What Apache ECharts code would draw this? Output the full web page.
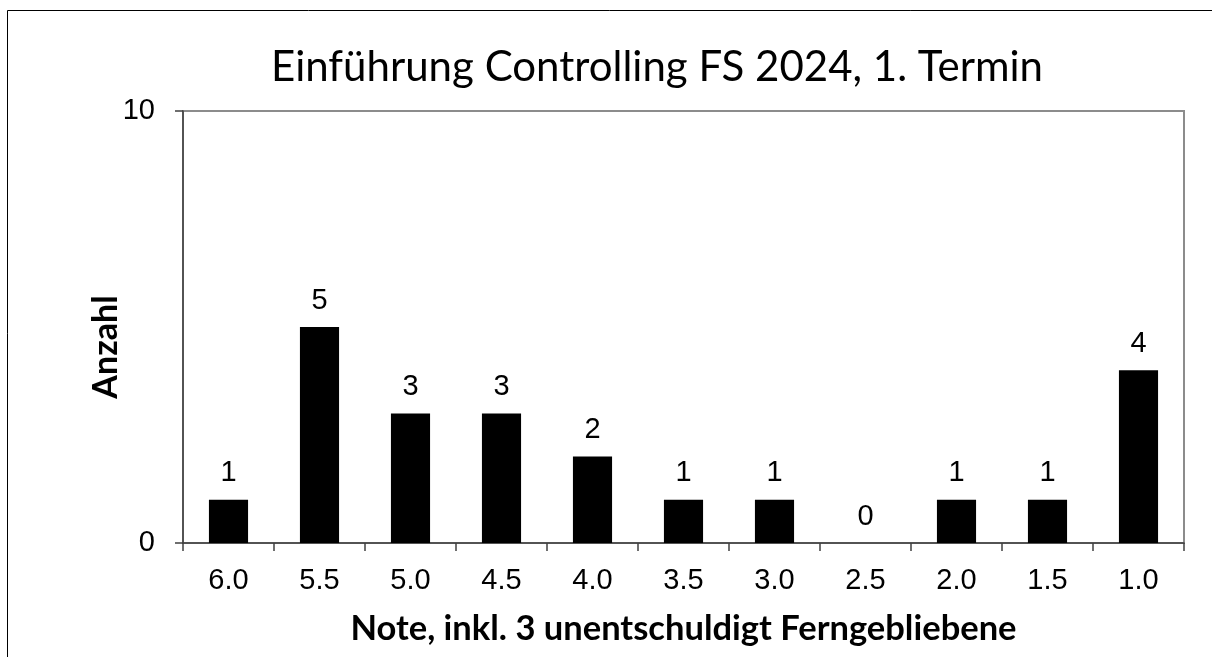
<!DOCTYPE html>
<html>
<head>
<meta charset="utf-8">
<script src="https://cdn.jsdelivr.net/npm/echarts@6/dist/echarts.min.js"></script>
<style>
  html, body { margin: 0; padding: 0; background: #fff; }
  #chart { width: 1212px; height: 657px; }
</style>
</head>
<body>
<div id="chart"></div>
<script>
// Noten (Kategorien) und Anzahl
const grades = ['6.0', '5.5', '5.0', '4.5', '4.0', '3.5', '3.0', '2.5', '2.0', '1.5', '1.0']
const counts = [1, 5, 3, 3, 2, 1, 1, 0, 1, 1, 4]
const yTicks = [0, 10]

const myChart = echarts.init(document.getElementById('chart'))
myChart.setOption({
  animation: false,
  backgroundColor: '#fff',
  title: {
    text: 'Einführung Controlling FS 2024, 1. Termin',
    left: 652,
    top: 41,
    textAlign: 'center',
    textStyle: {
      fontFamily: 'Lato',
      fontSize: 42,
      fontWeight: 'normal',
      color: '#000'
    }
  },
  // Rahmen links/oben
  graphic: [
    {
      type: 'polyline',
      shape: { points: [[7.5, 657], [7.5, 10.5], [1212, 10.5]] },
      style: { stroke: '#000', lineWidth: 1, fill: null }
    }
  ],
  grid: {
    left: 183,
    right: 28,
    top: 111,
    bottom: 114,
    show: true,
    borderColor: '#8c8c8c',
    borderWidth: 2
  },
  xAxis: {
    type: 'category',
    data: grades,
    name: 'Note, inkl. 3 unentschuldigt Ferngebliebene',
    nameLocation: 'middle',
    nameGap: 68,
    nameTextStyle: {
      fontFamily: 'Lato',
      fontWeight: 'bold',
      fontSize: 34.5,
      color: '#000'
    },
    axisLine: { lineStyle: { color: '#404040', width: 1.5 } },
    axisTick: { show: true, length: 8, lineStyle: { color: '#404040', width: 1.5 } },
    axisLabel: {
      margin: 23,
      fontFamily: 'Liberation Sans',
      fontSize: 29,
      color: '#000'
    }
  },
  yAxis: {
    type: 'value',
    min: yTicks[0],
    max: yTicks[1],
    interval: 10,
    name: 'Anzahl',
    nameLocation: 'middle',
    nameGap: 60,
    nameMoveOverlap: false,
    nameTextStyle: {
      fontFamily: 'Lato',
      fontWeight: 'bold',
      fontSize: 34,
      color: '#000',
      padding: [0, 40, 0, 0]
    },
    splitLine: { show: false },
    axisLine: { show: true, lineStyle: { color: '#404040', width: 1.5 } },
    axisTick: { show: true, length: 8, lineStyle: { color: '#404040', width: 1.5 } },
    axisLabel: {
      margin: 28,
      fontFamily: 'Liberation Sans',
      fontSize: 29,
      color: '#000'
    }
  },
  series: [
    {
      type: 'bar',
      data: counts,
      barWidth: '43%',
      itemStyle: { color: '#000' },
      label: {
        show: true,
        position: 'top',
        distance: 12,
        fontFamily: 'Liberation Sans',
        fontSize: 29,
        color: '#000'
      }
    }
  ]
})
</script>
</body>
</html>
